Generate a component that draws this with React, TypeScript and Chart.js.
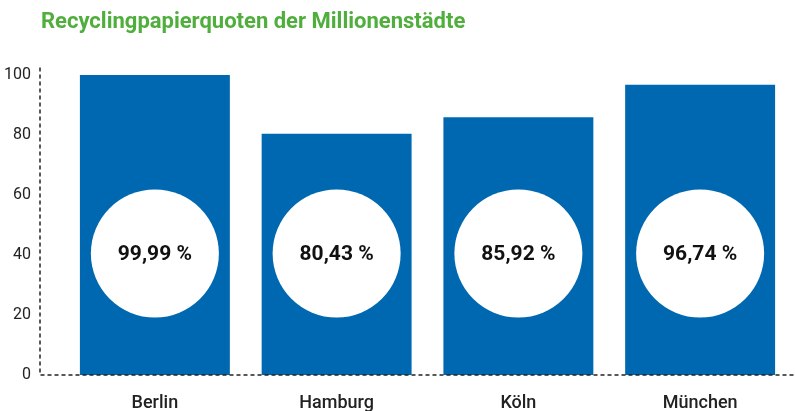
import React, { useEffect, useRef } from "react";
import { Chart, registerables } from "chart.js";

Chart.register(...registerables);

const title = "Recyclingpapierquoten der Millionenstädte";
const cities = ["Berlin", "Hamburg", "Köln", "München"];
const quotas = [99.99, 80.43, 85.92, 96.74];
const quotaLabels = ["99,99 %", "80,43 %", "85,92 %", "96,74 %"];
const yTicks = [0, 20, 40, 60, 80, 100];
const circleValue = 40.5;

const BLUE = "#0068b0";
const GREEN = "#4fae3c";
const FONT = "Roboto, 'DejaVu Sans', sans-serif";

const overlay = {
  id: "overlay",
  afterDatasetsDraw(chart: any) {
    const ctx = chart.ctx;
    const y = chart.scales.y;
    const x = chart.scales.x;
    const axisX = 40;
    const zeroY = y.getPixelForValue(0);
    ctx.save();
    // title
    ctx.fillStyle = GREEN;
    ctx.font = `bold 22px ${FONT}`;
    ctx.textAlign = "left";
    ctx.textBaseline = "alphabetic";
    ctx.fillText(title, 41, 28);

    // dashed axes
    ctx.strokeStyle = "#222";
    ctx.lineWidth = 1.5;
    ctx.setLineDash([4, 3]);
    ctx.beginPath();
    ctx.moveTo(axisX, y.getPixelForValue(102.5));
    ctx.lineTo(axisX, zeroY);
    ctx.lineTo(chart.width, zeroY);
    ctx.stroke();
    ctx.setLineDash([]);

    // y tick labels
    ctx.fillStyle = "#222";
    ctx.font = `16px ${FONT}`;
    ctx.textAlign = "right";
    ctx.textBaseline = "middle";
    yTicks.forEach((t) => {
      ctx.fillText(String(t), 31, y.getPixelForValue(t));
    });

    // x labels
    ctx.font = `500 18px ${FONT}`;
    ctx.textAlign = "center";
    ctx.textBaseline = "middle";
    cities.forEach((c, i) => {
      ctx.fillText(c, x.getPixelForValue(i), 403);
    });

    // circles
    const cy = y.getPixelForValue(circleValue);
    quotaLabels.forEach((lab, i) => {
      const cx = x.getPixelForValue(i);
      ctx.fillStyle = "#ffffff";
      ctx.beginPath();
      ctx.arc(cx, cy, 64, 0, Math.PI * 2);
      ctx.fill();
      ctx.fillStyle = "#111";
      ctx.font = `bold 21px ${FONT}`;
      ctx.textAlign = "center";
      ctx.textBaseline = "middle";
      ctx.fillText(lab, cx, cy + 1);
    });
    ctx.restore();
  },
};

export default function App() {
  const ref = useRef<HTMLCanvasElement>(null);
  useEffect(() => {
    if (!ref.current) return;
    const chart = new Chart(ref.current, {
      type: "bar",
      data: {
        labels: cities,
        datasets: [
          {
            data: quotas,
            backgroundColor: BLUE,
            barPercentage: 0.825,
            categoryPercentage: 1,
          },
        ],
      },
      options: {
        animation: false,
        responsive: false,
        layout: { padding: { left: 64, right: 4, top: 75, bottom: 36 } },
        plugins: { legend: { display: false }, tooltip: { enabled: false } },
        scales: {
          x: { display: false },
          y: { display: false, min: 0, max: 100 },
        },
      },
      plugins: [overlay],
    });
    return () => chart.destroy();
  }, []);
  return (
    <div style={{ position: "fixed", left: 0, top: 0, width: 795, height: 411, background: "#fff" }}>
      <canvas ref={ref} width={795} height={411} style={{ width: 795, height: 411 }} />
    </div>
  );
}
